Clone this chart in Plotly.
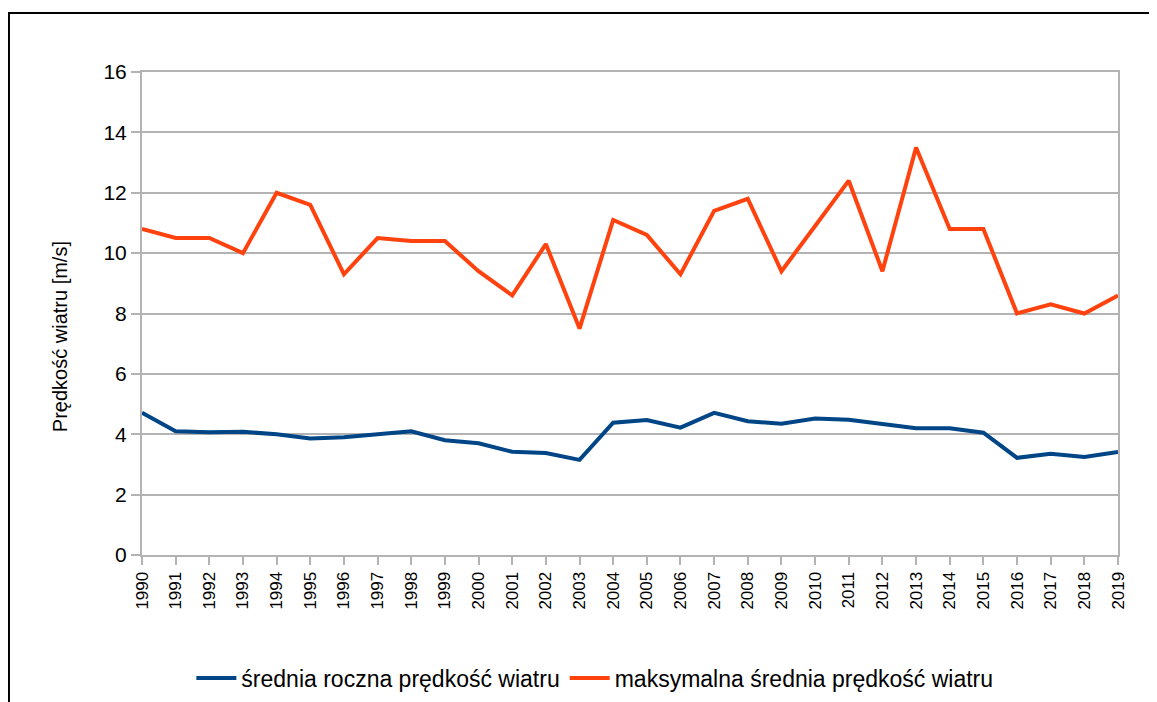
import plotly.graph_objects as go

# ---- data ----
YEARS = [str(y) for y in range(1990, 2020)]
MEAN_WIND = [4.71, 4.10, 4.07, 4.08, 4.00, 3.86, 3.90, 4.00, 4.10, 3.80,
             3.70, 3.42, 3.38, 3.15, 4.38, 4.47, 4.22, 4.71, 4.43, 4.35,
             4.52, 4.48, 4.35, 4.20, 4.20, 4.05, 3.22, 3.35, 3.25, 3.41]
MAX_WIND = [10.8, 10.5, 10.5, 10.0, 12.0, 11.6, 9.3, 10.5, 10.4, 10.4,
            9.4, 8.6, 10.3, 7.5, 11.1, 10.6, 9.3, 11.4, 11.8, 9.4,
            10.9, 12.4, 9.4, 13.5, 10.8, 10.8, 8.0, 8.3, 8.0, 8.6]
NAMES = ["średnia roczna prędkość wiatru", "maksymalna średnia prędkość wiatru"]
Y_TITLE = "Prędkość wiatru [m/s]"

COLOR_BLUE = "#004586"
COLOR_ORANGE = "#ff420e"
COLOR_GRID = "#b3b3b3"
FONT = "Liberation Sans, Arial, sans-serif"

fig = go.Figure()
fig.add_trace(go.Scatter(x=YEARS, y=MEAN_WIND, name=NAMES[0], mode="lines",
                         line=dict(color=COLOR_BLUE, width=4)))
fig.add_trace(go.Scatter(x=YEARS, y=MAX_WIND, name=NAMES[1], mode="lines",
                         line=dict(color=COLOR_ORANGE, width=4)))

# the page body adds an 8px offset, margins compensate for it
fig.update_layout(
    width=1157, height=702,
    margin=dict(l=134, r=47, t=64, b=155, autoexpand=False),
    paper_bgcolor="white", plot_bgcolor="white",
    font=dict(family=FONT, color="#000000", size=16),
    xaxis=dict(
        type="category", range=[0, len(YEARS) - 1],
        tickangle=-90, tickfont=dict(size=17),
        showgrid=False, showline=True, linecolor=COLOR_GRID, linewidth=2,
        mirror=True, ticks="outside", ticklen=8, tickcolor=COLOR_GRID, tickwidth=2,
    ),
    yaxis=dict(
        range=[0, 16], dtick=2, tickfont=dict(size=21),
        gridcolor=COLOR_GRID, gridwidth=1.5,
        showline=True, linecolor=COLOR_GRID, linewidth=2, mirror=True,
        ticks="outside", ticklen=9, tickcolor=COLOR_GRID, tickwidth=2,
        zeroline=False,
    ),
    legend=dict(orientation="h", x=0.464, xanchor="center", y=-0.2547, yanchor="middle",
                font=dict(size=23), itemwidth=40, tracegroupgap=0),
    showlegend=True,
)

# y-axis title sits a bit below the plot centre in the original
fig.add_annotation(text=Y_TITLE, textangle=-90, xref="paper", yref="paper",
                   x=-0.084, y=0.451, xanchor="center", yanchor="middle",
                   showarrow=False, font=dict(size=20))

# outer frame of the chart object (only top/left edges visible in the picture)
fig.add_shape(type="rect", xref="paper", yref="paper",
              x0=-0.1363, x1=1.2, y0=-0.6, y1=1.1222,
              line=dict(color="#000000", width=2), layer="below")

fig.write_html("out.html")
